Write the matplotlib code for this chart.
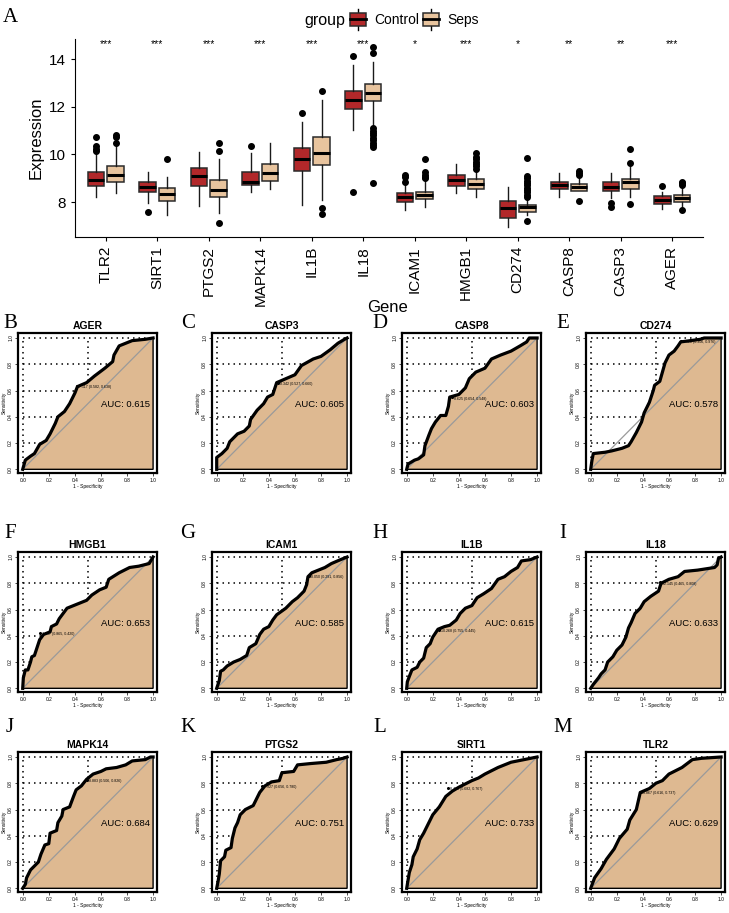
import numpy as np
import matplotlib
matplotlib.use("Agg")
import matplotlib.pyplot as plt
from matplotlib.patches import Rectangle

plt.rcParams['font.family'] = ['Liberation Sans', 'DejaVu Sans']
narrow = ['Liberation Sans Narrow', 'Liberation Sans', 'DejaVu Sans']

# ---- panel A: box plot summary ----
genes = ['TLR2', 'SIRT1', 'PTGS2', 'MAPK14', 'IL1B', 'IL18',
         'ICAM1', 'HMGB1', 'CD274', 'CASP8', 'CASP3', 'AGER']
stars = ['***', '***', '***', '***', '***', '***', '*', '***', '*', '**', '**', '***']

ctrl_lo = [8.22, 7.95, 7.85, 8.42, 7.88, 11.03, 7.66, 8.38, 6.93, 8.22, 8.15, 7.70]
ctrl_q1 = [8.69, 8.40, 8.69, 8.72, 9.31, 11.90, 8.01, 8.68, 7.31, 8.54, 8.48, 7.92]
ctrl_med = [8.93, 8.63, 9.10, 8.86, 9.81, 12.30, 8.20, 8.93, 7.73, 8.73, 8.65, 8.08]
ctrl_q3 = [9.28, 8.86, 9.42, 9.28, 10.29, 12.68, 8.36, 9.14, 8.05, 8.86, 8.86, 8.25]
ctrl_hi = [10.05, 9.28, 10.12, 10.05, 11.35, 13.76, 8.70, 9.60, 8.65, 9.24, 9.20, 8.44]
ctrl_out = [[10.15, 10.22, 10.35, 10.75], [7.60], [], [10.35], [11.72], [14.14, 8.40],
            [8.86, 9.05, 9.14], [], [], [], [7.80, 7.94], [8.68]]

seps_lo = [8.37, 7.45, 7.52, 8.55, 8.10, 11.20, 7.78, 8.22, 7.45, 8.45, 8.20, 7.80]
seps_q1 = [8.86, 8.05, 8.22, 8.89, 9.56, 12.25, 8.11, 8.54, 7.59, 8.48, 8.54, 8.01]
seps_med = [9.15, 8.33, 8.50, 9.20, 10.08, 12.57, 8.29, 8.75, 7.78, 8.62, 8.83, 8.18]
seps_q3 = [9.52, 8.58, 8.93, 9.60, 10.72, 12.96, 8.43, 8.96, 7.87, 8.76, 8.97, 8.29]
seps_hi = [10.35, 9.07, 9.80, 10.50, 12.30, 13.90, 8.95, 9.28, 8.15, 9.07, 9.50, 8.65]
seps_out = [[10.50, 10.72, 10.80], [9.80], [10.15, 10.50, 7.10], [], [12.68, 7.75, 7.50],
            [14.25, 14.50, 11.12, 11.0, 10.9, 10.8, 10.7, 10.6, 10.5, 10.4, 10.33, 8.82],
            [9.0, 9.07, 9.15, 9.28, 9.8], [9.4, 9.5, 9.6, 9.7, 9.8, 9.9, 10.05],
            [8.2, 8.3, 8.4, 8.5, 8.6, 8.7, 8.8, 8.9, 9.0, 9.1, 9.87, 7.22],
            [9.14, 9.22, 9.3, 8.04], [9.66, 10.22, 7.92], [8.72, 8.8, 8.86, 7.66]]

# ---- panels B-M: ROC curves (1 - specificity, sensitivity) ----
ager_fpr = [0, 0.02, 0.06, 0.09, 0.13, 0.18, 0.21, 0.25, 0.27, 0.32, 0.36, 0.40, 0.42, 0.49, 0.55, 0.63, 0.69, 0.70, 0.74, 0.79, 0.84, 0.94, 1]
ager_tpr = [0, 0.07, 0.10, 0.12, 0.19, 0.22, 0.27, 0.35, 0.40, 0.44, 0.50, 0.58, 0.63, 0.66, 0.71, 0.77, 0.82, 0.87, 0.94, 0.96, 0.98, 0.99, 1]
casp3_fpr = [0, 0, 0.04, 0.08, 0.10, 0.16, 0.21, 0.25, 0.26, 0.31, 0.36, 0.39, 0.43, 0.45, 0.46, 0.53, 0.60, 0.65, 0.74, 0.80, 0.87, 0.93, 0.98, 1]
casp3_tpr = [0, 0.09, 0.12, 0.16, 0.21, 0.27, 0.29, 0.33, 0.38, 0.45, 0.50, 0.55, 0.57, 0.63, 0.66, 0.69, 0.72, 0.79, 0.84, 0.86, 0.91, 0.96, 0.99, 1]
casp8_fpr = [0, 0.01, 0.06, 0.09, 0.13, 0.14, 0.17, 0.19, 0.22, 0.26, 0.30, 0.32, 0.33, 0.40, 0.45, 0.48, 0.53, 0.60, 0.65, 0.72, 0.80, 0.87, 0.92, 0.94, 1]
casp8_tpr = [0, 0.04, 0.07, 0.08, 0.11, 0.18, 0.26, 0.31, 0.36, 0.41, 0.41, 0.48, 0.55, 0.57, 0.62, 0.69, 0.74, 0.77, 0.84, 0.87, 0.90, 0.94, 0.97, 1.0, 1]
cd274_fpr = [0, 0.01, 0.02, 0.11, 0.16, 0.24, 0.29, 0.31, 0.35, 0.39, 0.41, 0.45, 0.48, 0.49, 0.53, 0.55, 0.57, 0.60, 0.64, 0.67, 0.69, 0.84, 0.87, 1]
cd274_tpr = [0, 0.07, 0.12, 0.13, 0.14, 0.16, 0.18, 0.21, 0.28, 0.36, 0.43, 0.51, 0.60, 0.64, 0.67, 0.74, 0.81, 0.87, 0.90, 0.94, 0.97, 0.99, 1.0, 1]
hmgb1_fpr = [0, 0.005, 0.02, 0.04, 0.06, 0.07, 0.09, 0.11, 0.13, 0.16, 0.21, 0.22, 0.26, 0.28, 0.31, 0.34, 0.39, 0.44, 0.49, 0.53, 0.59, 0.64, 0.66, 0.74, 0.82, 0.89, 0.97, 1]
hmgb1_tpr = [0, 0.08, 0.14, 0.14, 0.20, 0.24, 0.25, 0.31, 0.37, 0.41, 0.43, 0.47, 0.49, 0.53, 0.57, 0.61, 0.63, 0.65, 0.67, 0.71, 0.75, 0.77, 0.83, 0.88, 0.92, 0.93, 0.95, 1]
icam1_fpr = [0, 0.02, 0.03, 0.05, 0.08, 0.13, 0.18, 0.23, 0.25, 0.30, 0.33, 0.36, 0.40, 0.43, 0.46, 0.53, 0.58, 0.62, 0.67, 0.69, 0.70, 0.73, 0.78, 0.83, 0.88, 0.95, 1]
icam1_tpr = [0, 0.06, 0.13, 0.14, 0.17, 0.20, 0.22, 0.25, 0.31, 0.34, 0.41, 0.45, 0.47, 0.52, 0.56, 0.61, 0.66, 0.69, 0.74, 0.79, 0.85, 0.88, 0.90, 0.92, 0.95, 0.98, 1]
il1b_fpr = [0, 0.005, 0.02, 0.04, 0.08, 0.10, 0.13, 0.15, 0.18, 0.20, 0.24, 0.29, 0.33, 0.38, 0.41, 0.45, 0.50, 0.54, 0.59, 0.65, 0.70, 0.75, 0.80, 0.85, 0.88, 0.95, 1]
il1b_tpr = [0, 0.05, 0.09, 0.14, 0.16, 0.20, 0.23, 0.31, 0.34, 0.39, 0.45, 0.47, 0.48, 0.52, 0.57, 0.61, 0.63, 0.69, 0.72, 0.76, 0.83, 0.85, 0.89, 0.92, 0.97, 0.98, 1]
il18_fpr = [0, 0.02, 0.06, 0.08, 0.11, 0.13, 0.17, 0.20, 0.24, 0.27, 0.29, 0.31, 0.34, 0.38, 0.41, 0.46, 0.52, 0.54, 0.60, 0.67, 0.72, 0.82, 0.95, 0.97, 0.98, 1]
il18_tpr = [0, 0.03, 0.08, 0.11, 0.14, 0.20, 0.24, 0.29, 0.33, 0.39, 0.46, 0.50, 0.57, 0.61, 0.66, 0.70, 0.74, 0.80, 0.83, 0.85, 0.89, 0.90, 0.92, 0.94, 0.99, 1]
mapk14_fpr = [0, 0.02, 0.03, 0.06, 0.09, 0.12, 0.14, 0.17, 0.20, 0.21, 0.26, 0.27, 0.30, 0.31, 0.36, 0.39, 0.41, 0.45, 0.49, 0.54, 0.60, 0.64, 0.72, 0.79, 0.84, 0.94, 0.98, 1]
mapk14_tpr = [0, 0.03, 0.08, 0.14, 0.17, 0.20, 0.26, 0.33, 0.34, 0.42, 0.44, 0.50, 0.55, 0.60, 0.62, 0.70, 0.75, 0.78, 0.83, 0.87, 0.89, 0.91, 0.92, 0.94, 0.97, 0.98, 1.0, 1]
ptgs2_fpr = [0, 0.01, 0.02, 0.03, 0.06, 0.07, 0.11, 0.12, 0.14, 0.16, 0.18, 0.22, 0.28, 0.31, 0.33, 0.37, 0.42, 0.48, 0.50, 0.59, 0.62, 0.72, 0.84, 0.92, 0.97, 1]
ptgs2_tpr = [0, 0.05, 0.11, 0.21, 0.24, 0.29, 0.31, 0.38, 0.46, 0.50, 0.56, 0.60, 0.63, 0.69, 0.73, 0.78, 0.81, 0.82, 0.88, 0.89, 0.94, 0.95, 0.96, 0.98, 0.99, 1]
sirt1_fpr = [0, 0.01, 0.02, 0.04, 0.05, 0.08, 0.10, 0.13, 0.15, 0.18, 0.20, 0.25, 0.30, 0.35, 0.40, 0.50, 0.55, 0.60, 0.70, 0.80, 0.90, 1]
sirt1_tpr = [0, 0.06, 0.12, 0.18, 0.24, 0.30, 0.37, 0.42, 0.46, 0.52, 0.56, 0.62, 0.70, 0.74, 0.77, 0.82, 0.84, 0.87, 0.92, 0.96, 0.98, 1]
tlr2_fpr = [0, 0.03, 0.08, 0.12, 0.18, 0.22, 0.28, 0.30, 0.35, 0.38, 0.45, 0.50, 0.55, 0.60, 0.70, 0.78, 0.85, 1]
tlr2_tpr = [0, 0.08, 0.15, 0.22, 0.30, 0.38, 0.45, 0.52, 0.60, 0.73, 0.76, 0.80, 0.82, 0.87, 0.92, 0.98, 0.99, 1]

roc_names = ['AGER', 'CASP3', 'CASP8', 'CD274', 'HMGB1', 'ICAM1',
             'IL1B', 'IL18', 'MAPK14', 'PTGS2', 'SIRT1', 'TLR2']
roc_auc = ['0.615', '0.605', '0.603', '0.578', '0.653', '0.585',
           '0.615', '0.633', '0.684', '0.751', '0.733', '0.629']
roc_thr = ['7.117 (0.582, 0.638)', '8.342 (0.527, 0.660)', '8.625 (0.654, 0.548)',
           '7.926 (0.306, 0.976)', '7.937 (0.865, 0.420)', '8.050 (0.291, 0.856)',
           '10.268 (0.755, 0.445)', '12.145 (0.465, 0.808)', '8.883 (0.506, 0.826)',
           '7.927 (0.656, 0.780)', '8.413 (0.682, 0.767)', '8.867 (0.616, 0.737)']
roc_fpr = [ager_fpr, casp3_fpr, casp8_fpr, cd274_fpr, hmgb1_fpr, icam1_fpr,
           il1b_fpr, il18_fpr, mapk14_fpr, ptgs2_fpr, sirt1_fpr, tlr2_fpr]
roc_tpr = [ager_tpr, casp3_tpr, casp8_tpr, cd274_tpr, hmgb1_tpr, icam1_tpr,
           il1b_tpr, il18_tpr, mapk14_tpr, ptgs2_tpr, sirt1_tpr, tlr2_tpr]
letters = list('BCDEFGHIJKLM')

W, H = 729, 913
fig = plt.figure(figsize=(W / 100, H / 100), dpi=100)


def px_axes(left, top, w, h):
    return fig.add_axes([left / W, 1 - (top + h) / H, w / W, h / H])


c_ctrl = '#B2282A'
c_seps = '#E8C49E'

# ---------------- panel A ----------------
ax = px_axes(75, 39, 628, 198)
pos = np.arange(1, len(genes) + 1)


def stats(lo, q1, med, q3, hi, out):
    return [dict(whislo=a, q1=b, med=c, q3=d, whishi=e, fliers=f)
            for a, b, c, d, e, f in zip(lo, q1, med, q3, hi, out)]


for st, off, col in [(stats(ctrl_lo, ctrl_q1, ctrl_med, ctrl_q3, ctrl_hi, ctrl_out), -0.19, c_ctrl),
                     (stats(seps_lo, seps_q1, seps_med, seps_q3, seps_hi, seps_out), 0.19, c_seps)]:
    ax.bxp(st, positions=pos + off, widths=0.32, patch_artist=True, showcaps=False,
           boxprops=dict(facecolor=col, edgecolor='#2b2b2b', linewidth=1.1),
           medianprops=dict(color='black', linewidth=2.2),
           whiskerprops=dict(color='#1a1a1a', linewidth=1.0),
           flierprops=dict(marker='o', markerfacecolor='black', markeredgecolor='black',
                           markersize=4))

for p, s in zip(pos, stars):
    ax.text(p, 14.62, s, ha='center', va='center', fontsize=7.5)

ax.set_xlim(0.4, 12.6)
ax.set_ylim(6.53, 14.85)
ax.set_yticks([8, 10, 12, 14])
ax.set_xticks(pos)
ax.set_xticklabels(genes, rotation=90, fontsize=11, va='top', family=narrow)
ax.set_yticklabels(['8', '10', '12', '14'], fontsize=11, family=narrow)
ax.tick_params(axis='y', length=3, width=0.8)
ax.tick_params(axis='x', length=3, width=0.8)
ax.spines['top'].set_visible(False)
ax.spines['right'].set_visible(False)
ax.set_ylabel('Expression', fontsize=12, labelpad=4, family=narrow)
fig.text(387 / W, 1 - 307 / H, 'Gene', ha='center', va='center', fontsize=12, family=narrow)
fig.text(3 / W, 1 - 18 / H, 'A', ha='left', va='center', fontsize=15,
         family=['Liberation Serif', 'DejaVu Serif'])

# legend
lg = px_axes(300, 6, 180, 26)
lg.set_xlim(0, 180)
lg.set_ylim(26, 0)
lg.axis('off')
lg.text(4, 14, 'group', ha='left', va='center', fontsize=11.5, family=narrow)
for x0, col, lab in [(50, c_ctrl, 'Control'), (123, c_seps, 'Seps')]:
    lg.plot([x0 + 8, x0 + 8], [3, 24], color='black', lw=1.0)
    lg.add_patch(Rectangle((x0, 7), 16, 13, facecolor=col, edgecolor='#2b2b2b', lw=1.1, zorder=3))
    lg.plot([x0, x0 + 16], [13.5, 13.5], color='black', lw=2, zorder=4)
    lg.text(x0 + 24, 14, lab, ha='left', va='center', fontsize=10, family=narrow)

# ---------------- panels B-M ----------------
col_left = [18, 212, 402, 586]
row_top = [333, 552, 752]
lab_x = [10, 188, 380, 563]
lab_y = [323, 533, 728]

for k, name in enumerate(roc_names):
    r, c = divmod(k, 4)
    a = px_axes(col_left[c], row_top[r], 139, 140)
    fpr = np.array(roc_fpr[k])
    tpr = np.array(roc_tpr[k])
    a.set_xlim(-0.036, 1.03)
    a.set_ylim(-0.028, 1.038)
    for yy in [0.2, 0.4, 0.6, 0.8, 1.0]:
        a.plot([0, 1], [yy, yy], ls=(0, (1, 2.6)), color='black', lw=1.1, zorder=1)
    for xx in [0, 0.5]:
        a.plot([xx, xx], [0, 1], ls=(0, (1, 2.6)), color='black', lw=1.1, zorder=1)
    a.fill(np.r_[fpr, 1, 0], np.r_[tpr, 0, 0], facecolor='#DEB991', edgecolor='black',
           lw=1.0, zorder=2)
    a.plot([0, 1], [0, 1], color='#9a9a9a', lw=0.9, zorder=3)
    a.plot(fpr, tpr, color='black', lw=2.3, zorder=4, solid_joinstyle='round')
    # best threshold point
    sp = float(roc_thr[k].split('(')[1].split(',')[0])
    se = float(roc_thr[k].split(',')[1].strip(' )'))
    a.plot(1 - sp, se, 'o', color='black', ms=1.2, zorder=5)
    a.text(1 - sp + 0.015, se - 0.01, roc_thr[k], fontsize=2.6, ha='left', va='center', zorder=6)
    a.text(0.6, 0.49, 'AUC: ' + roc_auc[k], fontsize=6.8, ha='left', va='center', zorder=6)
    a.set_title(name, fontsize=7.5, fontweight='bold', pad=3)
    a.set_xticks([0, 0.2, 0.4, 0.6, 0.8, 1.0])
    a.set_yticks([0, 0.2, 0.4, 0.6, 0.8, 1.0])
    a.set_xticklabels(['0.0', '0.2', '0.4', '0.6', '0.8', '1.0'])
    a.set_yticklabels(['0.0', '0.2', '0.4', '0.6', '0.8', '1.0'], rotation=90, va='center')
    a.tick_params(labelsize=3.5, length=2, width=0.5, pad=1.5)
    a.set_xlabel('1 - Specificity', fontsize=3.5, labelpad=1)
    a.set_ylabel('Sensitivity', fontsize=3.5, labelpad=1)
    for sp_ in a.spines.values():
        sp_.set_linewidth(1.6)
    fig.text(lab_x[c] / W, 1 - lab_y[r] / H, letters[k], ha='center', va='center', fontsize=15,
             family=['Liberation Serif', 'DejaVu Serif'])

fig.savefig('out.png', dpi=100)
